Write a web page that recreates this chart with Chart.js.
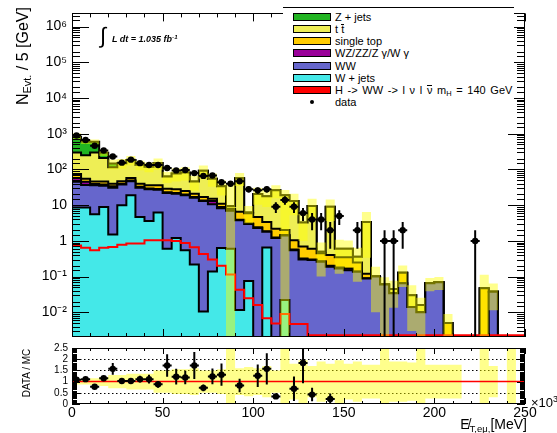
<!DOCTYPE html>
<html>
<head>
<meta charset="utf-8">
<title>Missing ET e-mu channel</title>
<script src="https://cdn.jsdelivr.net/npm/chart.js@4.4.1/dist/chart.umd.min.js"></script>
<style>
  html, body { margin: 0; padding: 0; background: #fff; }
  #wrap { position: relative; width: 557px; height: 433px; overflow: hidden; font-family: 'Liberation Sans', Arial, Helvetica, sans-serif; color: #000; }
  #wrap canvas { position: absolute; left: 0; top: 0; }
  .txt { position: absolute; white-space: nowrap; line-height: 1; }
  .sub { font-size: 68%; vertical-align: -0.3em; }
  .sup { font-size: 68%; vertical-align: 0.55em; }
  .bar { display: inline-block; line-height: 8px; border-top: 1px solid #000; }
  #legend { position: absolute; left: 283px; top: 7px; width: 231px; height: 102px; background: #fff; border-top: 1px solid #000; }
  .lrow { position: absolute; left: 0; height: 12px; width: 231px; font-size: 11px; }
  .lbox { position: absolute; left: 10px; top: 2px; width: 38px; height: 8px; box-sizing: border-box; border: 1.5px solid #000; }
  .ltxt { position: absolute; left: 52px; top: 0; line-height: 12px; }
  .ldot { position: absolute; left: 27px; top: 4px; width: 4px; height: 4px; border-radius: 50%; background: #000; }
</style>
</head>
<body>
<div id="wrap">
  <canvas id="main" width="557" height="433"></canvas>
  <canvas id="ratio" width="557" height="433"></canvas>

  <div id="legend">
    <div class="lrow" style="top:3px"><span class="lbox" style="background:#22b422"></span><span class="ltxt">Z + jets</span></div>
    <div class="lrow" style="top:15px"><span class="lbox" style="background:#eeee55"></span><span class="ltxt">t <span class="bar">t</span></span></div>
    <div class="lrow" style="top:27px"><span class="lbox" style="background:#ffcc00"></span><span class="ltxt">single top</span></div>
    <div class="lrow" style="top:39px"><span class="lbox" style="background:#990099"></span><span class="ltxt">WZ/ZZ/Z &gamma;/W &gamma;</span></div>
    <div class="lrow" style="top:52px"><span class="lbox" style="background:#6666cc"></span><span class="ltxt">WW</span></div>
    <div class="lrow" style="top:64px"><span class="lbox" style="background:#44e8e8"></span><span class="ltxt">W + jets</span></div>
    <div class="lrow" style="top:76px"><span class="lbox" style="background:#ff0000"></span><span class="ltxt" style="word-spacing:1.6px">H -&gt; WW -&gt; l &nu; l <span class="bar">&nu;</span> m<span class="sub">H</span> = 140 GeV</span></div>
    <div class="lrow" style="top:88px"><span class="ldot"></span><span class="ltxt">data</span></div>
  </div>

  <div class="txt" style="left:100px;top:25px;font-size:22px;">&int;</div>
  <div class="txt" style="left:112px;top:34px;font-size:9px;font-weight:bold;font-style:italic;">L dt = 1.035 fb<span class="sup">-1</span></div>

  <div class="txt" style="left:24px;top:56px;font-size:16px;transform:translate(-50%,-50%) rotate(-90deg);">N<span class="sub">Evt.</span> / 5 [GeV]</div>
  <div class="txt" style="left:27px;top:373px;font-size:10px;transform:translate(-50%,-50%) rotate(-90deg);">DATA / MC</div>

  <div class="txt" style="right:30px;top:417px;font-size:14px;">E&#824;<span class="sub">T,e&mu;,</span>[MeV]</div>
  <div class="txt" style="left:531px;top:395px;font-size:13px;">&times;10<span class="sup">3</span></div>
</div>

<script>
// ---------------- data ----------------
const binWidth = 5;
const binLowEdges = [0,5,10,15,20,25,30,35,40,45,50,55,60,65,70,75,80,85,90,95,100,105,110,115,120,125,130,135,140,145,150,155,160,165,170,175,180,185,190,195,200,205,210,215,220,225,230,235,240,245];

const wjets     = [8.6,8.6,5.6,8.9,1.5,9.9,19,4.7,3.6,6.2,0.6,1.2,0.55,0.22,0.0105,0.14,0.63,0.6,0.0117,0.075,0,0.65,0,0.022,0,0,0,0,0,0,0,0,0,0,0,0,0,0,0,0,0,0,0,0,0,0,0,0,0,0];
const ww        = [36.4,28.4,30.4,26.1,29.5,28.1,28,26.3,24.4,20.8,21.4,19.8,18.45,15.8,13,10.4,7.6,6.4,3.8,2.9,2.3,1.15,1.2,1.4,0.55,0.3,0.29,0.26,0.19,0.17,0.15,0.136,0.089,0.1,0.06,0.034,0.065,0.014,0.01,0.065,0.07,0,0.001,0,0,0,0.038,0,0.001,0];
const diboson   = [13,8,3,3,3,2,2,2,1.5,1.5,1,1,1,1,0.5,2.5,0.6,0.2,0.1,0.1,0.1,0.05,0.05,0.05,0.02,0.02,0.01,0.01,0.01,0.01,0.02,0.004,0.001,0,0,0,0,0,0,0,0,0,0,0,0,0,0,0,0,0];
const singletop = [17,10,7,8,6,7,9,7,6.5,7.5,6,6,5,4,3.5,2,2.2,0.8,2.6,2.9,2.3,1.55,0.95,0.55,0.48,0.38,0.3,0.18,0.2,0.17,0.18,0.11,0.03,0,0,0,0.063,0,0,0,0,0.005,0,0,0,0.047,0,0,0,0];
const ttbar     = [225,195,254,164,75,103,125,95,84,115,35,49,57,25,75,40,23,1.5,50.5,0.3,15.9,14.4,23.8,17,11.95,2.6,8.9,0.05,8.6,0.25,0.25,0.11,3.28,0,0,0.011,0,0.016,0.006,0,0,0,0,0,0,0,0,0,0,0];
const zjets     = [524,354,297,86,31,0,0,0,0,0,0,0,0,0,0,0,0,0,0,0,0,0,0,0,0,0,0,0,0,0,0,0,0,0,0,0,0,0,0,0,0,0,0,0,0,0,0,0,0,0];
const higgs     = [0.74,0.64,0.55,0.64,0.68,0.78,0.85,0.85,1.05,1.05,1.05,1.0,0.88,0.66,0.43,0.3,0.2,0.115,0.043,0.025,0.016,0.0068,0.0049,0.009,0.0047,0.0047,0,0,0,0,0,0,0,0,0,0,0,0,0,0,0,0,0,0,0,0,0,0,0,0];

const mcErrUp   = [0.25,0.15,0.15,0.2,0.3,0.3,0.3,0.3,0.3,0.35,0.35,0.4,0.4,0.45,0.4,0.4,0.45,3.2,0.4,0.5,0.5,0.5,0.4,0.4,0.6,0.7,0.6,0.8,0.6,0.8,0.7,0.8,0.9,0.9,0.6,0.7,0.6,0.9,0.6,0.4,0.4,0.8,0,0,0,1.4,0.7,0,0,0];
const mcErrDown = [0.15,0.15,0.15,0.2,0.3,0.3,0.3,0.3,0.3,0.35,0.35,0.4,0.4,0.45,0.4,0.4,0.45,1,0.4,0.5,0.5,0.5,0.4,1,0.6,0.7,0.6,0.8,0.6,0.8,0.7,0.8,0.9,0.9,1,0.7,0.6,0.9,1,0.4,0.4,0.8,0,0,0,1,0.7,0,0,0];

const dataCounts = [890,670,460,340,230,155,188,150,133,133,110,94,97,79,66,68,44,40,47,28,26,28,9,14,9,6,4,4,2,5,0,2,0,0,1,1,2,0,0,0,0,0,0,0,1,0,0,0,0,0];
const dataErr    = [29.8,25.9,21.4,18.4,15.2,12.4,13.7,12.2,11.5,11.5,10.5,9.7,9.8,8.9,8.1,8.2,6.6,6.3,6.9,5.3,5.1,5.3,3,3.7,3,2.4,2,2,1.4,2.2,0,1.4,0,0,1,1,1.4,0,0,0,0,0,0,0,1,0,0,0,0,0];

const ratioVals = [1.08,1.11,0.77,1.15,1.57,1.03,1.03,1.11,1.11,0.88,1.72,1.22,1.18,1.72,0.72,1.23,1.31,null,0.83,null,1.26,1.57,0.34,null,0.68,1.83,0.42,null,0.22,null,null,null,null,null,null,null,null,null,null,null,null,null,null,null,null,null,null,null,null,null];
const ratioErr  = [0.04,0.05,0.04,0.07,0.26,0.12,0.12,0.15,0.2,0.15,0.5,0.35,0.3,0.6,0.15,0.35,0.5,0,0.3,0,0.5,0.7,0.12,0,0.55,0.9,0.3,0,0.25,0,0,0,0,0,0,0,0,0,0,0,0,0,0,0,0,0,0,0,0,0];
const ratioBand = [0.13,0.13,0.15,0.2,0.3,0.3,0.35,0.35,0.35,0.5,0.5,0.55,0.55,0.6,0.5,0.5,0.55,1.6,0.6,0.65,0.6,0.7,0.5,1.6,0.8,0.95,0.7,0.9,0.8,0.95,0.8,0.9,0.75,0.75,1.6,0.9,0.9,0.85,1.6,0.75,0.75,0.75,0.75,0,0,1.6,0.7,0,1.6,0];

const logTickExps   = [-2,-1,0,1,2,3,4,5,6];
const logTickLabels = ['10\u207B\u00B2','10\u207B\u00B9','1','10','10\u00B2','10\u00B3','10\u2074','10\u2075','10\u2076'];
const ratioTickVals   = [0,0.5,1,1.5,2,2.5];
const ratioTickLabels = ['0','0.5','1','1.5','2','2.5'];
const xTickVals   = [0,50,100,150,200,250];
const xTickLabels = ['0','50','100','150','200','250'];

// ---------------- helpers ----------------
const NB = binLowEdges.length;
const XMAX = binLowEdges[NB - 1] + binWidth;
const YMIN = 0.00204, YMAX = 2.34e6;
const FLOOR = 1e-5;
const HATCH = 'rgba(255,255,0,0.45)';

function steps(vals) {
  const pts = vals.map((v, i) => ({ x: binLowEdges[i], y: v }));
  pts.push({ x: XMAX, y: vals[NB - 1] });
  return pts;
}
const pos = v => (v > 0 ? v : FLOOR);

// cumulative stack (bottom -> top)
const layers = [wjets, ww, diboson, singletop, ttbar, zjets];
const layerColors = ['#44e8e8', '#6666cc', '#990099', '#ffcc00', '#eeee55', '#22b422'];
let run = new Array(NB).fill(0);
const cumulative = layers.map(arr => { run = run.map((r, i) => r + arr[i]); return run.slice(); });
const total = cumulative[cumulative.length - 1];
const bandHi = total.map((t, i) => t > 0 ? pos(t * (1 + mcErrUp[i])) : FLOOR);
const bandLo = total.map((t, i) => t > 0 ? pos(t * (1 - mcErrDown[i])) : FLOOR);

function errorPoints(vals, errs, floor) {
  const pts = [];
  vals.forEach((v, i) => {
    if (v === null || !(v > 0)) return;
    const lo = binLowEdges[i], hi = lo + binWidth, c = lo + binWidth / 2;
    pts.push({ x: lo, y: v }, { x: hi, y: v }, { x: c, y: null });
    if (errs[i] > 0) pts.push({ x: c, y: Math.max(v - errs[i], floor) }, { x: c, y: v + errs[i] }, { x: c, y: null });
  });
  return pts;
}
function markerPoints(vals) {
  const pts = [];
  vals.forEach((v, i) => { if (v !== null && v > 0) pts.push({ x: binLowEdges[i] + binWidth / 2, y: v }); });
  return pts;
}

function isDecade(v) { const l = Math.log10(v); return Math.abs(l - Math.round(l)) < 1e-6; }

// ---------------- main panel ----------------
// datasets later in the list are drawn first: Z+jets (total) first, W+jets last
const stackDatasets = cumulative.map((c, k) => ({
  label: 'stack' + k,
  data: steps(c.map(pos)),
  stepped: true,
  borderColor: '#000', borderWidth: 2,
  backgroundColor: layerColors[k],
  fill: 'start', pointRadius: 0, clip: 0
}));

const mainFrame = {
  id: 'mainFrame',
  afterDraw(chart) {
    const { ctx, chartArea: a } = chart;
    const xs = chart.scales.x, ys = chart.scales.y;
    ctx.save();
    ctx.strokeStyle = '#000'; ctx.lineWidth = 1;
    ctx.beginPath();
    ys.ticks.forEach(t => {
      const y = Math.round(ys.getPixelForValue(t.value)) + 0.5;
      if (y < a.top + 1 || y > a.bottom - 1) return;
      const L = isDecade(t.value) ? 17 : 8;
      ctx.moveTo(a.left, y); ctx.lineTo(a.left + L, y);
      ctx.moveTo(a.right, y); ctx.lineTo(a.right - L, y);
    });
    for (let v = 0; v <= XMAX; v += 10) {
      const x = Math.round(xs.getPixelForValue(v)) + 0.5;
      const L = v % 50 === 0 ? 8 : 4;
      ctx.moveTo(x, a.bottom); ctx.lineTo(x, a.bottom - L);
      ctx.moveTo(x, a.top); ctx.lineTo(x, a.top + L);
    }
    ctx.stroke();
    ctx.strokeRect(Math.round(a.left) + 0.5, Math.round(a.top) + 0.5, Math.round(a.width) - 1, Math.round(a.height) - 1);
    ctx.restore();
  }
};

new Chart(document.getElementById('main'), {
  type: 'line',
  data: {
    datasets: [
      { label: 'data errors', data: errorPoints(dataCounts, dataErr, FLOOR), borderColor: '#000', borderWidth: 2, pointRadius: 0, fill: false, spanGaps: false, clip: 0 },
      { label: 'data', data: markerPoints(dataCounts), showLine: false, pointRadius: 3.2, pointBackgroundColor: '#000', pointBorderWidth: 0, clip: 0 },
      { label: 'band hi', data: steps(bandHi), stepped: true, borderColor: 'transparent', borderWidth: 0, backgroundColor: HATCH, fill: '+1', pointRadius: 0, clip: 0 },
      { label: 'band lo', data: steps(bandLo), stepped: true, borderColor: 'transparent', borderWidth: 0, fill: false, pointRadius: 0, clip: 0 },
      { label: 'higgs', data: steps(higgs.map(v => v > 0 ? v : YMIN * 1.12)), stepped: true, borderColor: '#ff0000', borderWidth: 2, fill: false, pointRadius: 0, clip: false },
      ...stackDatasets
    ]
  },
  options: {
    responsive: false, animation: false, devicePixelRatio: 1, events: [],
    layout: { padding: { left: 0, top: 13, right: 32, bottom: 96 } },
    plugins: { legend: { display: false }, tooltip: { enabled: false } },
    elements: { point: { radius: 0 } },
    scales: {
      x: { type: 'linear', min: 0, max: XMAX, display: false },
      y: {
        type: 'logarithmic', min: YMIN, max: YMAX,
        grid: { display: false, drawTicks: false }, border: { display: false },
        ticks: {
          autoSkip: false, color: '#000', padding: 5,
          font: { family: "'Liberation Sans', Arial, sans-serif", size: 14 },
          callback: (v) => {
            if (!isDecade(v)) return '';
            const k = logTickExps.indexOf(Math.round(Math.log10(v)));
            return k >= 0 ? logTickLabels[k] : '';
          }
        },
        afterFit: (s) => { s.width = 72; }
      }
    }
  },
  plugins: [mainFrame]
});

// ---------------- ratio panel ----------------
const rBandHi = ratioBand.map(b => 1 + b);
const rBandLo = ratioBand.map(b => Math.max(1 - b, 0));

const ratioFrame = {
  id: 'ratioFrame',
  beforeDatasetsDraw(chart) {
    const { ctx, chartArea: a } = chart; const ys = chart.scales.y;
    ctx.save(); ctx.strokeStyle = '#000'; ctx.lineWidth = 1; ctx.setLineDash([1.5, 2.5]);
    ctx.beginPath();
    [0.5, 1.5, 2].forEach(v => { const y = Math.round(ys.getPixelForValue(v)) + 0.5; ctx.moveTo(a.left, y); ctx.lineTo(a.right, y); });
    ctx.stroke(); ctx.restore();
  },
  afterDraw(chart) {
    const { ctx, chartArea: a } = chart;
    const xs = chart.scales.x, ys = chart.scales.y;
    ctx.save(); ctx.strokeStyle = '#000'; ctx.lineWidth = 1; ctx.beginPath();
    for (let k = 0; k <= 50; k++) {
      const v = k * 0.05;
      const y = Math.round(ys.getPixelForValue(v)) + 0.5;
      const L = k % 10 === 0 ? 8 : 5;
      ctx.moveTo(a.left, y); ctx.lineTo(a.left + L, y);
      ctx.moveTo(a.right, y); ctx.lineTo(a.right - L, y);
    }
    for (let v = 0; v <= XMAX; v += 10) {
      const x = Math.round(xs.getPixelForValue(v)) + 0.5;
      const L = v % 50 === 0 ? 6 : 3;
      ctx.moveTo(x, a.bottom); ctx.lineTo(x, a.bottom - L);
      ctx.moveTo(x, a.top); ctx.lineTo(x, a.top + L);
    }
    ctx.stroke();
    ctx.strokeRect(Math.round(a.left) + 0.5, Math.round(a.top) + 0.5, Math.round(a.width) - 1, Math.round(a.height) - 1);
    ctx.restore();
  }
};

new Chart(document.getElementById('ratio'), {
  type: 'line',
  data: {
    datasets: [
      { label: 'ratio errors', data: errorPoints(ratioVals, ratioErr, 0), borderColor: '#000', borderWidth: 2, pointRadius: 0, fill: false, spanGaps: false, clip: 0 },
      { label: 'ratio', data: markerPoints(ratioVals), showLine: false, pointRadius: 3.2, pointBackgroundColor: '#000', pointBorderWidth: 0, clip: 0 },
      { label: 'unity', data: [{ x: 0, y: 1 }, { x: XMAX, y: 1 }], borderColor: '#ff0000', borderWidth: 1.5, pointRadius: 0, fill: false, clip: 0 },
      { label: 'ratio band hi', data: steps(rBandHi), stepped: true, borderColor: 'transparent', borderWidth: 0, backgroundColor: HATCH, fill: '+1', pointRadius: 0, clip: 0 },
      { label: 'ratio band lo', data: steps(rBandLo), stepped: true, borderColor: 'transparent', borderWidth: 0, fill: false, pointRadius: 0, clip: 0 }
    ]
  },
  options: {
    responsive: false, animation: false, devicePixelRatio: 1, events: [],
    layout: { padding: { left: 0, top: 348, right: 32, bottom: 0 } },
    plugins: { legend: { display: false }, tooltip: { enabled: false } },
    elements: { point: { radius: 0 } },
    scales: {
      x: {
        type: 'linear', min: 0, max: XMAX,
        grid: { display: false, drawTicks: false }, border: { display: false },
        afterBuildTicks: (s) => { s.ticks = xTickVals.map(v => ({ value: v })); },
        ticks: {
          autoSkip: false, maxRotation: 0, color: '#000', padding: 1,
          font: { family: "'Liberation Sans', Arial, sans-serif", size: 14 },
          callback: (v) => { const k = xTickVals.indexOf(v); return k >= 0 ? xTickLabels[k] : ''; }
        },
        afterFit: (s) => { s.height = 29; }
      },
      y: {
        type: 'linear', min: 0, max: 2.5,
        grid: { display: false, drawTicks: false }, border: { display: false },
        afterBuildTicks: (s) => { s.ticks = ratioTickVals.map(v => ({ value: v })); },
        ticks: {
          autoSkip: false, color: '#000', padding: 4,
          font: { family: "'Liberation Sans', Arial, sans-serif", size: 10 },
          callback: (v) => { const k = ratioTickVals.indexOf(v); return k >= 0 ? ratioTickLabels[k] : ''; }
        },
        afterFit: (s) => { s.width = 72; }
      }
    }
  },
  plugins: [ratioFrame]
});
</script>
</body>
</html>
